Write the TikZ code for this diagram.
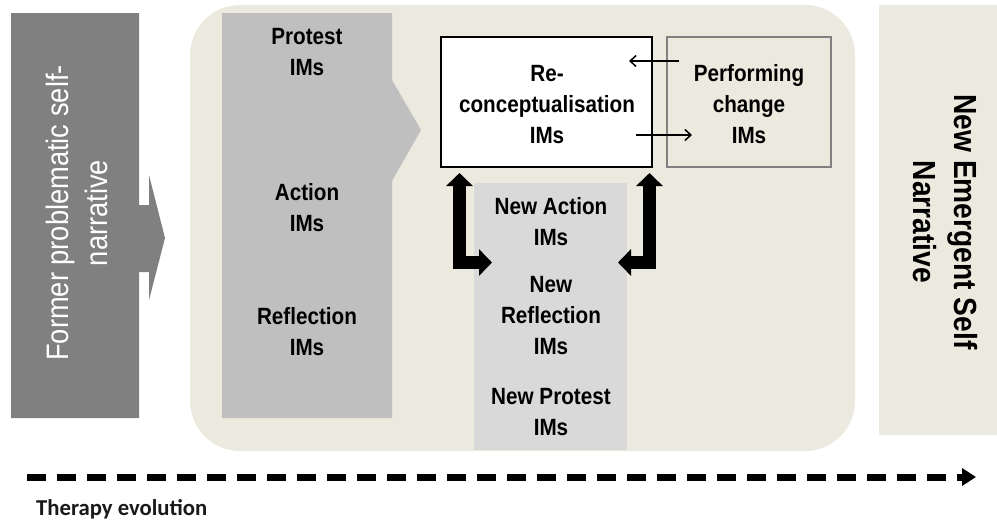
\documentclass[tikz,border=0pt]{standalone}
\usepackage{fontspec}
\usetikzlibrary{arrows.meta}
\newfontfamily\imsfont[FakeStretch=0.88]{Liberation Sans}
\newfontfamily\evofont{Carlito}
\definecolor{cBeige}{RGB}{236,233,223}
\definecolor{cDark}{RGB}{128,128,128}
\definecolor{cMid}{RGB}{191,191,191}
\definecolor{cLight}{RGB}{217,217,217}
\definecolor{cBorder}{RGB}{128,128,128}
\tikzset{
  imstext/.style={align=center, inner sep=0pt, text=black,
    font=\imsfont\bfseries\fontsize{23.5}{31}\selectfont},
  boxframe/.style={line width=2pt, inner sep=0pt},
  bigarrow/.style={line width=12.5pt, line join=miter,
    {Triangle[width=26pt,length=13pt]}-{Triangle[width=26pt,length=13pt]}},
  thinarrow/.style={line width=1.5pt, -{Straight Barb[length=6pt,width=11pt]}},
  evoarrow/.style={line width=7pt, dash pattern=on 19pt off 11pt,
    -{Triangle[length=14pt,width=17pt]}}
}
\begin{document}
\begin{tikzpicture}[x=1pt,y=-1pt]
\useasboundingbox (0,0) rectangle (997,522);
\fill[white] (0,0) rectangle (997,522);

% main beige panel and right panel
\fill[cBeige, rounded corners=50pt] (190,5) rectangle (855,451);
\fill[cBeige] (879,5) rectangle (997,435);

% left dark block arrow
\fill[cDark] (11,13) -- (139,13) -- (139,205) -- (149,205) -- (149,175)
  -- (165,238) -- (149,300) -- (149,272) -- (139,272) -- (139,418)
  -- (11,418) -- cycle;
\node[rotate=90, align=center, inner sep=0pt, text=white,
  font=\imsfont\fontsize{31}{39}\selectfont] (former) at (76.5,213)
  {Former problematic self-\\narrative};

% grey pentagon
\fill[cMid] (222,13) -- (392,13) -- (392,80) -- (421,130) -- (392,181)
  -- (392,418) -- (222,418) -- cycle;
\node[imstext] (protest) at (307,51.6) {Protest\\IMs};
\node[imstext] (action) at (307,207.6) {Action\\IMs};
\node[imstext] (reflection) at (307,332) {Reflection\\IMs};

% new IMs box
\fill[cLight] (474,183) rectangle (627,450);
\node[imstext] (newaction) at (551,221.6) {New Action\\IMs};
\node[imstext] (newreflection) at (551,315.6) {New\\Reflection\\IMs};
\node[imstext] (newprotest) at (551,411.6) {New Protest\\IMs};

% reconceptualisation and performing change boxes
\node[boxframe, draw=black, fill=white, minimum width=211pt,
  minimum height=130pt] (rec) at (546.5,102) {};
\node[imstext] (rectext) at (547,104.6) {Re-\\conceptualisation\\IMs};
\node[boxframe, draw=cBorder, minimum width=164pt,
  minimum height=130pt] (perf) at (749,102) {};
\node[imstext] (perftext) at (749,104) {Performing\\change\\IMs};

% thin arrows between the two boxes
\coordinate (pa1) at (679,61);
\coordinate (pa2) at (629,61);
\coordinate (pb1) at (636,135);
\coordinate (pb2) at (692,135);
\draw[thinarrow] (pa1) -- (pa2);
\draw[thinarrow] (pb1) -- (pb2);

% thick elbow arrows
\coordinate (la1) at (459.5,173);
\coordinate (la2) at (492,262.5);
\coordinate (ra1) at (649.5,173);
\coordinate (ra2) at (618,262.5);
\draw[bigarrow] (la1) |- (la2);
\draw[bigarrow] (ra1) |- (ra2);

% new emergent self narrative
\node[rotate=-90, align=center, inner sep=0pt, text=black,
  font=\imsfont\bfseries\fontsize{32}{41}\selectfont] (nes) at (945.5,222)
  {New Emergent Self\\Narrative};

% therapy evolution
\coordinate (ev1) at (27,477);
\coordinate (ev2) at (976,477);
\draw[evoarrow] (ev1) -- (ev2);
\node[anchor=base west, inner sep=0pt, text=black!90,
  font=\evofont\bfseries\fontsize{22.7}{27}\selectfont] (evo) at (36,515)
  {Therapy evolution};
\end{tikzpicture}
\end{document}
